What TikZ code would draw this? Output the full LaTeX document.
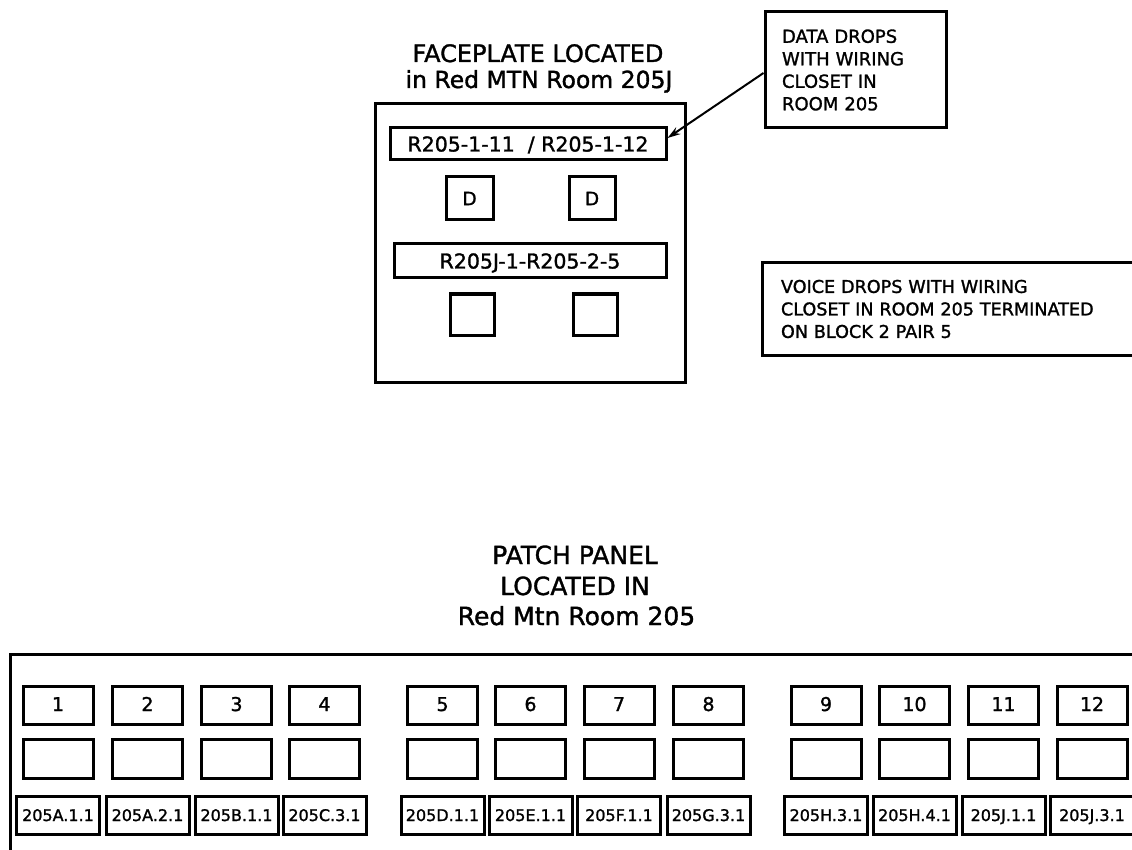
\documentclass[tikz,border=0pt]{standalone}
\usepackage{fontspec}
\setmainfont{DejaVu Sans}[FakeBold=1.4]
\usetikzlibrary{arrows.meta}
\begin{document}
\begin{tikzpicture}[x=1pt,y=-1pt,
  box/.style={draw, line width=3pt, inner sep=0pt},
  titlefont/.style={font=\fontsize{24}{26}\selectfont},
  ptitlefont/.style={font=\fontsize{25}{28}\selectfont},
  fplabfont/.style={font=\fontsize{20.5}{22}\selectfont, text height=15pt, text depth=0pt},
  dfont/.style={font=\fontsize{18.5}{20}\selectfont},
  notefont/.style={font=\fontsize{18}{22.5}\selectfont},
  vnotefont/.style={font=\fontsize{17.6}{22.5}\selectfont},
  numfont/.style={font=\fontsize{19}{20}\selectfont, text height=12pt, text depth=0pt},
  pplabfont/.style={font=\fontsize{16}{19}\selectfont, text height=12pt, text depth=0pt},
  pointer/.style={line width=2pt, -{Stealth[length=13pt, width=8pt]}}
]
\useasboundingbox (0,0) rectangle (1132,850);
\clip (0,0) rectangle (1132,850);

% ---------- Faceplate ----------
\node[anchor=base, titlefont] (fpt1) at (538,62) {FACEPLATE LOCATED};
\node[anchor=base, font=\fontsize{23.5}{26}\selectfont] (fpt2) at (539,88) {in Red MTN Room 205J};
\node[box, minimum width=310pt, minimum height=278pt] (fp) at (530,243) {};
\node[box, minimum width=276pt, minimum height=32pt, fplabfont] (fplab1) at (528,144) {R205-1-11\ \ / R205-1-12};
\node[box, minimum width=47pt, minimum height=43pt, dfont] (d1) at (469.5,198.5) {D};
\node[box, minimum width=46pt, minimum height=43pt, dfont] (d2) at (592,198.5) {D};
\node[box, minimum width=272pt, minimum height=34pt, fplabfont] (fplab2) at (530,261) {R205J-1-R205-2-5};
\node[box, minimum width=44pt, minimum height=41pt] (v1) at (472,314.5) {};
\node[box, minimum width=44pt, minimum height=41pt] (v2) at (595,314.5) {};

% ---------- Notes ----------
\node[box, text width=147pt, inner xsep=17pt, minimum height=116pt, align=left, notefont] (data) at (855.5,70)
  {DATA DROPS\\WITH WIRING\\CLOSET IN\\ROOM 205};
\draw[pointer] ([yshift=-3pt]data.west) -- ([yshift=6pt]fplab1.east);

\node[box, text width=350pt, inner xsep=19pt, minimum height=92pt, align=left, vnotefont] (voice) at (956,309)
  {VOICE DROPS WITH WIRING\\CLOSET IN ROOM 205 TERMINATED\\ON BLOCK 2 PAIR 5};

% ---------- Patch panel ----------
\node[anchor=base, ptitlefont] (ppt1) at (575,564) {PATCH PANEL};
\node[anchor=base, ptitlefont] (ppt2) at (575,595) {LOCATED IN};
\node[anchor=base, ptitlefont] (ppt3) at (576.5,625) {Red Mtn Room 205};
\node[box, minimum width=1140pt, minimum height=216pt] (pp) at (580,762) {};

\foreach \n/\cx/\lab in {1/58/205A.1.1, 2/147.5/205A.2.1, 3/236.5/205B.1.1, 4/324.5/205C.3.1,
                         5/442.5/205D.1.1, 6/530.5/205E.1.1, 7/619/205F.1.1, 8/708.5/205G.3.1,
                         9/826/205H.3.1, 10/914.5/205H.4.1, 11/1003.5/205J.1.1, 12/1092/205J.3.1} {
  \node[box, minimum width=70pt, minimum height=38pt, numfont] (num\n) at (\cx,705) {\n};
  \node[box, minimum width=70pt, minimum height=39pt] (jack\n) at (\cx,758.5) {};
  \node[box, minimum width=83pt, minimum height=38pt, pplabfont] (pplab\n) at (\cx,815) {\lab};
}
\end{tikzpicture}
\end{document}
